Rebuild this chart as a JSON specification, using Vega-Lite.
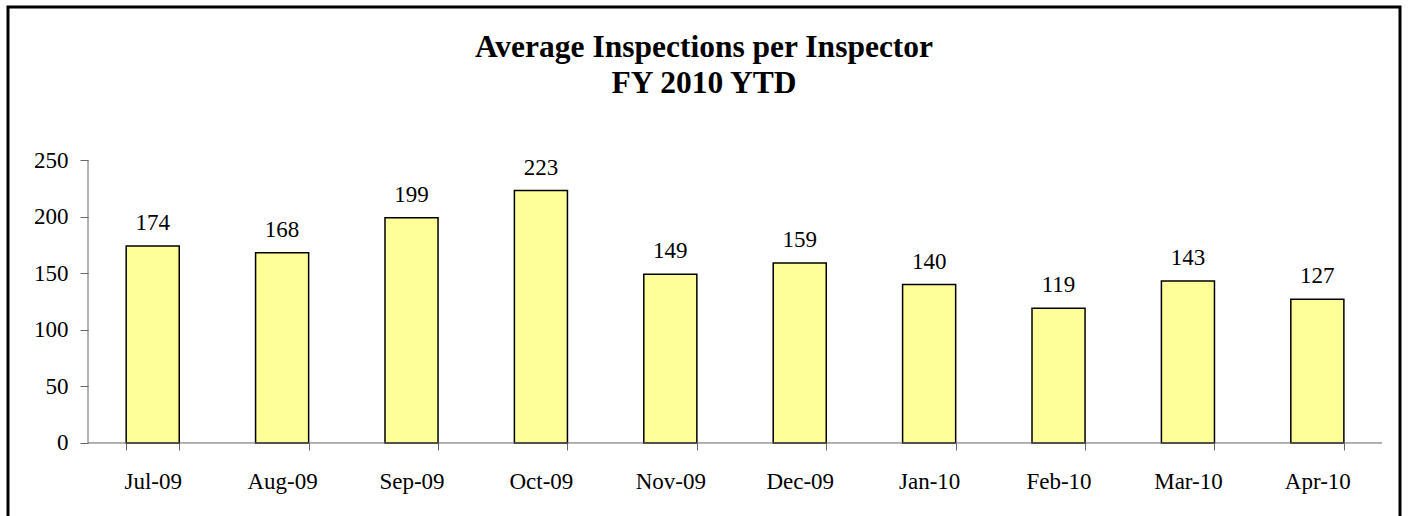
{
  "$schema": "https://vega.github.io/schema/vega-lite/v6.json",
  "width": 1392,
  "height": 523,
  "autosize": "none",
  "padding": {"left": 8, "top": 7, "right": 8, "bottom": 0},
  "background": "white",
  "config": {
    "view": {"stroke": "black", "strokeWidth": 3},
    "font": "Liberation Serif"
  },
  "title": {
    "text": ["Average Inspections per Inspector", "FY 2010 YTD"],
    "font": "Liberation Serif",
    "fontSize": 31.5,
    "fontWeight": "bold",
    "color": "black",
    "anchor": "middle",
    "frame": "group",
    "baseline": "alphabetic",
    "lineHeight": 36,
    "offset": -117
  },
  "data": {
    "values": [
      {"month": "Jul-09", "value": 174},
      {"month": "Aug-09", "value": 168},
      {"month": "Sep-09", "value": 199},
      {"month": "Oct-09", "value": 223},
      {"month": "Nov-09", "value": 149},
      {"month": "Dec-09", "value": 159},
      {"month": "Jan-10", "value": 140},
      {"month": "Feb-10", "value": 119},
      {"month": "Mar-10", "value": 143},
      {"month": "Apr-10", "value": 127}
    ]
  },
  "layer": [
    {
      "mark": {"type": "bar", "fill": "#FFFF99", "stroke": "black", "strokeWidth": 1.5},
      "encoding": {
        "x": {
          "field": "month",
          "type": "nominal",
          "sort": null,
          "scale": {
            "domain": ["Jul-09", "Aug-09", "Sep-09", "Oct-09", "Nov-09", "Dec-09", "Jan-10", "Feb-10", "Mar-10", "Apr-10"],
            "paddingInner": 0.59,
            "paddingOuter": 0.6735,
            "align": 0.678
          },
          "axis": {
            "title": null,
            "orient": "bottom",
            "offset": -87,
            "domain": false,
            "tickBand": "extent",
            "tickSize": 7,
            "tickColor": "#666666",
            "labelAngle": 0,
            "labelFont": "Liberation Serif",
            "labelFontSize": 23,
            "labelColor": "black",
            "labelPadding": 20
          }
        },
        "y": {
          "field": "value",
          "type": "quantitative",
          "scale": {"domain": [-76.9, 385.2], "nice": false, "zero": false},
          "axis": {
            "title": null,
            "orient": "left",
            "offset": -80,
            "domain": false,
            "grid": false,
            "values": [0, 50, 100, 150, 200, 250],
            "tickSize": 8,
            "tickColor": "#666666",
            "labelFont": "Liberation Serif",
            "labelFontSize": 23,
            "labelColor": "black",
            "labelPadding": 12
          }
        }
      }
    },
    {
      "mark": {"type": "text", "baseline": "alphabetic", "dy": -16, "font": "Liberation Serif", "fontSize": 23, "color": "black"},
      "encoding": {
        "x": {"field": "month", "type": "nominal", "sort": null},
        "y": {"field": "value", "type": "quantitative"},
        "text": {"field": "value", "type": "quantitative"}
      }
    },
    {
      "data": {"values": [{}]},
      "mark": {"type": "rule", "color": "#666666", "strokeWidth": 1},
      "encoding": {
        "x": {"datum": "Jul-09", "bandPosition": -0.7195},
        "y": {"datum": 0},
        "y2": {"datum": 250}
      }
    },
    {
      "data": {"values": [{}]},
      "mark": {"type": "rule", "color": "#666666", "strokeWidth": 1},
      "encoding": {
        "x": {"datum": "Jul-09", "bandPosition": -0.7195},
        "x2": {"datum": "Apr-10", "bandPosition": 1.7195},
        "y": {"datum": 0}
      }
    }
  ]
}
